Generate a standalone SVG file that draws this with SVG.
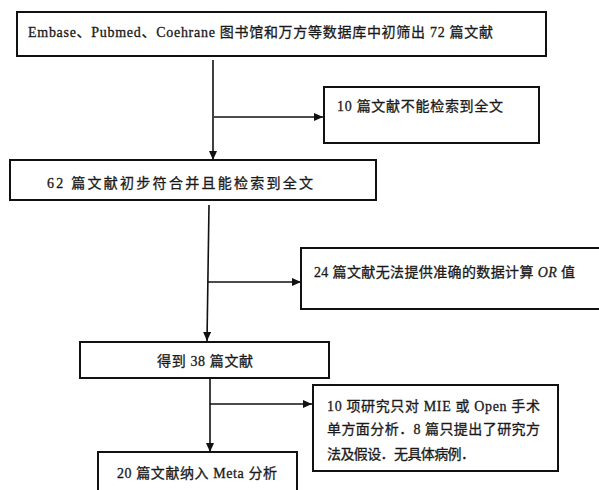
<svg xmlns="http://www.w3.org/2000/svg" width="599" height="490" viewBox="0 0 599 490">
<style>
.box{fill:#fff;stroke:#111;stroke-width:2}
.t{font-family:"Liberation Serif","Noto Sans CJK SC",serif;font-size:14px;fill:#1a1a1a;stroke:#1a1a1a;stroke-width:0.3}
.ln{stroke:#111;stroke-width:1.6;fill:none}
</style>
<defs>
<marker id="ah" markerUnits="userSpaceOnUse" markerWidth="10" markerHeight="10" refX="9" refY="4" orient="auto">
<path d="M0,0 L9,4 L0,8 Z" fill="#111"/>
</marker>
</defs>
<rect width="599" height="490" fill="#fff"/>
<g id="connectors">
<line class="ln" x1="213" y1="60" x2="213" y2="160" marker-end="url(#ah)"/>
<line class="ln" x1="214" y1="117" x2="323" y2="117" marker-end="url(#ah)"/>
<line class="ln" x1="209" y1="205" x2="207" y2="341" marker-end="url(#ah)"/>
<line class="ln" x1="208" y1="282" x2="301" y2="282" marker-end="url(#ah)"/>
<line class="ln" x1="210" y1="379" x2="210" y2="452" marker-end="url(#ah)"/>
<line class="ln" x1="210" y1="404" x2="312" y2="404" marker-end="url(#ah)"/>
</g>
<g id="n1">
<rect class="box" x="17" y="12" width="529" height="44" stroke-width="2.5"/>
<text class="t" x="28" y="37" textLength="465" lengthAdjust="spacing">Embase、Pubmed、Coehrane 图书馆和万方等数据库中初筛出 72 篇文献</text>
</g>
<g id="n2">
<rect class="box" x="324" y="87" width="215" height="56"/>
<text class="t" x="337" y="111" textLength="166" lengthAdjust="spacing">10 篇文献不能检索到全文</text>
</g>
<g id="n3">
<rect class="box" x="10" y="160" width="366" height="40"/>
<text class="t" x="47" y="188" textLength="266" lengthAdjust="spacing">62 篇文献初步符合并且能检索到全文</text>
</g>
<g id="n4">
<path class="box" d="M602,248 H301 V309 H602"/>
<text class="t" x="314" y="277" textLength="261" lengthAdjust="spacing">24 篇文献无法提供准确的数据计算 <tspan font-style="italic">OR</tspan> 值</text>
</g>
<g id="n5">
<rect class="box" x="80" y="342" width="249" height="36"/>
<text class="t" x="157" y="366" textLength="96" lengthAdjust="spacing">得到 38 篇文献</text>
</g>
<g id="n6">
<rect class="box" x="313" y="385" width="245" height="86"/>
<text class="t" x="327" y="411" textLength="213" lengthAdjust="spacing">10 项研究只对 MIE 或 Open 手术</text>
<text class="t" x="327" y="434" textLength="213" lengthAdjust="spacing">单方面分析．8 篇只提出了研究方</text>
<text class="t" x="327" y="459" textLength="148" lengthAdjust="spacing">法及假设．无具体病例．</text>
</g>
<g id="n7">
<path class="box" d="M98,492 V452 H297 V492"/>
<text class="t" x="117" y="478" textLength="160" lengthAdjust="spacing">20 篇文献纳入 Meta 分析</text>
</g>
</svg>
